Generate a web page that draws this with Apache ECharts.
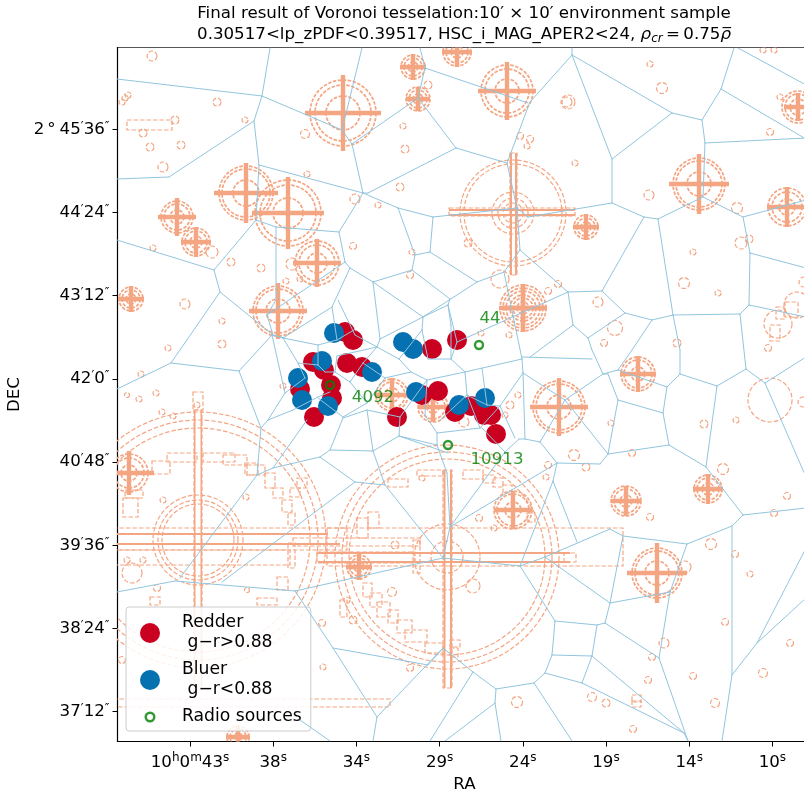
<!DOCTYPE html>
<html><head><meta charset="utf-8">
<style>html,body{margin:0;padding:0;background:#fff;overflow:hidden}#c{width:804px;height:792px}</style>
<script src="https://cdn.jsdelivr.net/npm/echarts@6/dist/echarts.min.js"></script>
</head><body><div id="c"></div>
<script>
const xTickValues=[190,273.2,356.4,439.6,522.8,606,689.2,772.4];
const xTickLabels=['43','38','34','29','24','19','14','10'];
const yTickValues=[129.3,212.5,295.7,378.9,462.1,545.3,628.5,711.7];
const yTickLabels=['2{d|°}45{p|′}36{p|″}','44{p|′}24{p|″}','43{p|′}12{p|″}','42{p|′}0{p|″}','40{p|′}48{p|″}','39{p|′}36{p|″}','38{p|′}24{p|″}','37{p|′}12{p|″}'];
const redder=[[345,332],[353,340],[313,362],[324,370],[347,363],[362,367],[331,385],[300,389],[332,398],[314,417],[397,417],[432,349],[457,340],[422,395],[438,391],[455,412],[471,406],[484,415],[491,415],[496,434]];
const bluer=[[334,333],[322,361],[372,372],[298,378],[302,400],[328,406],[403,342],[413,349],[416,392],[459,405],[485,398]];
const radio=[[479,345],[330,385],[448,445]];
const radioNames=[[490,319,'44'],[373,398,'4092'],[497,460,'10913']];
const voronoiPaths=[
[270,48,262,96,254,121,259,165,256,220],[117,79,262,96,342,130,352,144,418,98,425,68,420,48],[254,121,169,177,117,179],[362,48,342,130],
[352,144,363,193,368,193,456,148,507,163],[259,165,363,193,398,208,433,217,517,208],[418,98,456,148],[425,68,528,103],
[363,193,339,232,345,262,350,268,373,282,412,270,415,255,398,208],[339,232,276,227,256,220,214,270,117,240],[415,255,430,252,433,217],[430,252,477,282],[412,270,450,299],
[423,317,477,282,504,272,520,250,517,208,507,163,530,102,572,55,572,48],[276,227,276,300,267,315],[345,262,267,315,273,335,220,292],[214,270,220,292,171,363,117,389],
[171,363,239,371,272,335,285,338],[239,371,261,428,257,475,180,578],
[350,268,332,307,283,338],[273,335,283,338],[332,307,337,340],[338,300,355,335,377,347],[373,282,423,317],[373,282,380,339,377,347],[283,338,318,345,337,340,354,330],[380,339,423,317],
[377,347,337,356,335,372,325,372,318,365,318,345],[272,335,285,393],[283,338,298,363,318,365],[298,363,305,378,285,393],[285,393,268,420,261,428],[268,420,293,410,318,397,330,392],
[343,417,367,403,350,382,335,372],[343,417,318,398],[343,418,367,410,373,451,330,450,343,418],[320,457,330,450],[373,451,385,485],[373,451,399,436,448,453],[367,410,400,417,399,436],[400,417,427,380],
[427,380,411,372,399,359,377,347],[399,359,422,330,423,317],[411,372,385,378,367,403],[350,382,363,363,377,347],[363,363,385,378],[422,330,428,359,451,359,465,372,427,380],[423,317,448,305,451,325,451,359],[448,305,450,299],
[465,372,522,359],[465,372,467,395,480,428,500,406,523,373,522,359,504,272],[457,342,568,292],[451,359,457,342,448,305],[482,368,487,405,500,406],[467,395,487,405],[480,428,437,433,425,415,427,380],[399,436,437,445,447,473,450,527],[437,433,437,445],[467,395,440,420],
[522,357,592,359],[523,373,525,439],[519,439,505,452,482,428],[500,406,515,438],[505,452,450,527,443,558],
[588,338,592,350,603,374,608,374,618,400,608,454,600,464,557,463,540,442,525,439,519,439],[565,400,603,374],[523,373,565,400,608,454],[565,400,540,442],[632,350,618,370,603,374],
[618,370,667,387,680,374,717,386,746,369],[680,350,680,374],[717,386,706,467],[740,314,746,369],[746,369,765,383,806,357],[765,383,806,477],
[667,387,663,413,618,400],[663,413,669,445,608,454],[669,445,706,467,743,515,806,508],[743,515,732,526,687,544,623,536,610,529,545,557,520,566],[732,526,732,675,722,741],[732,675,757,643,806,548],[757,643,806,598],
[557,463,553,481,577,542],[553,481,520,566],[545,557,610,603],[623,536,610,603,670,592,687,544],[670,592,659,658,688,741],[610,603,605,623,659,658],[605,623,597,625,555,621,520,566],
[555,621,552,655,592,656,597,625],[552,655,545,673,582,683,592,656],[545,673,534,683,496,689,473,672,443,648,377,717,373,741],[496,689,495,703,501,741],[495,703,445,741],[534,683,572,741],[582,683,684,733,688,741],[592,656,684,733],
[473,672,430,741],[295,591,333,648,428,665,443,648],[333,648,377,717],[295,591,175,581,117,592],[295,591,443,558,520,566],[355,482,222,582],[257,475,273,468,320,457,355,482,385,485,443,558],[273,468,307,420],[450,527,557,463],[300,720,330,741],
[572,55,612,159,612,203,644,217,658,219,703,197,705,143,702,120,672,113,572,55],[672,113,612,159],[702,120,721,89,734,48],[721,89,806,139],[738,48,806,85],[705,143,806,138],
[612,203,528,217,517,208],[520,250,568,292,602,291,644,217],[568,292,573,325,530,357],[573,325,588,338],[602,291,625,313,652,320,632,350],[625,313,588,338],[652,320,673,315,658,219],[673,315,740,314,749,305,750,253,743,217,703,197],[743,217,806,200],[750,253,806,268],[749,305,806,317],[673,315,680,350]
];
const stars=[[343,113,33,28,17,38,38],[246,193,27,24,13,32,30],[288,213,33,28,15,36,36],[177,217,16,13,7,19,19],[196,242,14,11,6,15,15],[317,263,22,18,10,24,24],[278,311,25,22,12,29,28],[131,299,12,9,5,13,13],[413,67,12,9,5,13,13],[418,99,12,9,5,12,12],[457,52,14,11,6,15,15],[507,91,26,22,12,29,29],[586,227,12,9,5,13,13],[699,184,26,23,12,30,30],[787,207,19,15,8,20,20],[798,107,16,13,8,14,14],[523,308,23,20,10,24,24],[523,308,17,13,6,20,20],[559,407,26,23,12,29,29],[638,374,17,14,7,18,18],[513,510,19,16,8,19,19],[626,501,15,12,6,15,15],[708,489,14,11,6,15,15],[657,573,25,22,12,30,30],[129,473,19,15,8,25,22],[359,567,12,9,5,13,13],[238,737,11,8,4,12,12],[392,395,16,13,7,17,17],[433,407,15,12,6,15,15]];
const circles=[[152,56,5],[217,102,4],[245,120,3],[175,120,4],[143,133,4],[150,147,4],[181,145,4],[163,167,5],[305,134,4.5],[403,126,3],[428,85,4],[405,149,4],[400,187,4],[355,199,5],[378,205,3],[307,174,3],[353,246,3.5],[412,252,3],[410,275,3.5],[153,248,3],[212,252,6],[231,262,4],[261,268,4],[292,264,6],[185,304,5],[222,321,3],[222,344,4],[168,348,3],[286,281,3],[300,279,3],[125,98,3],[128,95,3],[122,102,3],
[650,64,3],[662,88,5.5],[567,102,5],[568,102,7],[520,136,3.5],[530,139,3.5],[527,146,3],[575,163,3],[649,195,5],[737,208,5.5],[468,243,4],[741,243,6],[749,239,4],[693,252,3],[500,279,9],[684,283,5.5],[718,293,3],[558,284,3.5],[548,291,3.5],[598,302,5],[615,328,7.5],[604,343,3.5],[509,335,3],[481,333,3],[677,343,4],[770,132,3.5],[780,97,3],[763,50,3],[774,50,3],[804,282,5],
[778,324,14],[797,305,13],[768,348,3.5],[770,400,22],[803,402,5],[736,420,3],[704,424,4],[518,395,3],[510,405,4],[505,415,3],[464,422,5],[632,453,3.5],[611,423,3],[574,455,5.5],[586,467,4],[548,465,3.5],[546,477,3],[723,469,5.5],[787,496,3.5],[774,513,3.5],[650,517,3.5],[479,518,3.5],[494,528,3],[711,544,5.5],[735,554,3.5],[750,574,3],[685,567,6],[473,586,7],[725,622,3.5],[664,643,5],[790,643,3.5],[652,657,3.5],[763,673,4.5],[693,676,3.5],[648,680,3.5],[715,703,4.5],[517,702,5.5],[592,697,4.5],[606,703,4],[633,729,3.5],
[283,386,3],[141,374,3],[156,393,3],[127,395,2.5],[139,399,3],[162,412,3],[173,416,3],[197,405,3],[163,500,3],[246,497,3],[143,560,3],[127,560,3],[132,573,10],[157,588,3.5],[247,590,2.5],[322,623,3.5],[323,667,3],[392,592,4.5],[353,620,4],[347,600,3],[410,668,3.5],[122,660,3.5],[395,545,4],[422,478,3],
[198,540,128],[198,540,120],[198,540,112],[198,540,45],[198,540,40],[198,540,36],[447,557,112],[447,557,105],[447,557,98],[447,557,33],[447,557,16],[513,213,53],[513,213,49],[513,213,21],[513,213,15],[513,213,10]];
const dashedRects=[[127,120,172,130],[776,307,784,319],[785,302,798,317],[770,325,780,341],[632,695,641,702],[632,701,641,707],
[152,461,170,474],[167,453,197,462],[203,453,235,462],[223,455,247,465],[245,463,258,475],[265,473,275,488],[273,488,283,498],[282,500,292,512],[288,513,295,525],[123,498,138,517],[125,490,143,498],[288,543,295,568],[277,577,288,590],[257,598,277,605],[290,488,300,497],[297,478,307,488],[247,465,265,475],[357,518,368,538],[368,512,379,528],[363,583,372,597],[370,593,382,607],[377,602,390,617],[388,610,398,623],[397,620,412,633],[405,630,427,642],[425,643,443,653],[388,479,408,487],[417,470,443,476],[340,600,347,617],[463,470,483,479],[483,475,495,483],[493,478,503,487],[503,485,512,493],[527,513,535,522],[450,640,460,647],[450,648,458,657],[150,597,160,605],
[193,392,203,410],[194,410,202,690],[100,528,347,550],[100,550,290,565],[100,699,390,707],[293,538,420,546],[413,540,420,573],[327,528,623,566],[317,552,415,563],[443,470,452,688],[510,153,517,275],[449,208,575,216],[564,553,576,562]];
const solidBars=[[194,410,195.5,690],[200.5,410,202,690],[100,533,328,535],[100,543,340,545],[318,552,570,554],[318,561,570,563],[443.5,470,445.5,688],[450,470,452,688],[510,153,512,275],[515,153,517,275],[449,209,575,211],[449,214,575,216]];
const MASK='#f4a582', EDGE='#92c5de', RED='#ca0020', BLUE='#0571b0';
const FONT='"DejaVu Sans"', FS=16.67;
const ringIcon='path://M0,0h.01M20,20h.01M10,4.5a5.5,5.5 0 1,1 -.01,0zM10,7a3,3 0 1,0 .01,0z';
const voronoiEdges=[];
voronoiPaths.forEach(p=>{for(let i=0;i+3<p.length;i+=2)voronoiEdges.push([p[i],p[i+1],p[i+2],p[i+3]]);});
const dash={stroke:MASK,fill:null,lineWidth:1.2,lineDash:[4.5,2]};
const circleEl=(api,x,y,r,st)=>{const c=api.coord([x,y]);return {type:'circle',shape:{cx:c[0],cy:c[1],r:api.size([r,0])[0]},style:st||dash};};
const chart=echarts.init(document.getElementById('c'),null,{renderer:'canvas'});
const sup={fontSize:12,fontFamily:FONT,color:'#000',verticalAlign:'top',padding:[0,0,10,0]};
chart.setOption({
 animation:false,backgroundColor:'#fff',
 title:{left:459,top:-2,textAlign:'center',text:'Final result of Voronoi tesselation:10′ × 10′ environment sample\n0.30517<lp_zPDF<0.39517, HSC_i_MAG_APER2<24, {it|ρ}{sub|cr}\u2009=\u20090.75{it|ρ̅}',
  textStyle:{fontFamily:FONT,fontSize:FS,fontWeight:'normal',color:'#000',lineHeight:21,rich:{it:{fontStyle:'italic',fontFamily:FONT,fontSize:FS,color:'#000'},sub:{fontStyle:'italic',fontFamily:FONT,fontSize:12,color:'#000',verticalAlign:'bottom',padding:[5,0,0,0]}}}},
 grid:{left:117.5,top:47.5,width:694,height:694,outerBoundsMode:'none',show:true,borderColor:'#555',borderWidth:1,backgroundColor:'#fff'},
 xAxis:{type:'value',min:117.5,max:811.5,name:'RA',nameLocation:'middle',nameGap:31,nameTextStyle:{fontFamily:FONT,fontSize:FS,color:'#000'},
  splitLine:{show:false},axisLine:{show:true,onZero:false,lineStyle:{color:'#000',width:1.2}},
  axisTick:{show:true,length:5,customValues:xTickValues,lineStyle:{color:'#000',width:1}},
  axisLabel:{show:true,customValues:xTickValues,margin:10,fontFamily:FONT,fontSize:FS,color:'#000',
   formatter:v=>{const i=xTickValues.findIndex(t=>Math.abs(t-v)<.01),s=xTickLabels[i];return (i===0?'10{u|h}0{u|m}':'')+s+'{u|s}';},rich:{u:sup}}},
 yAxis:{type:'value',inverse:true,min:47.5,max:741.5,name:'DEC',nameLocation:'middle',nameGap:90,nameTextStyle:{fontFamily:FONT,fontSize:FS,color:'#000'},
  splitLine:{show:false},axisLine:{show:true,onZero:false,lineStyle:{color:'#000',width:1.2}},
  axisTick:{show:true,length:5,customValues:yTickValues,lineStyle:{color:'#000',width:1}},
  axisLabel:{show:true,customValues:yTickValues,margin:8,fontFamily:FONT,fontSize:FS,color:'#000',
   formatter:v=>yTickLabels[yTickValues.findIndex(t=>Math.abs(t-v)<.01)],rich:{p:{fontSize:12.5,fontFamily:FONT,color:'#000',verticalAlign:'top',padding:[0,0,6,0]},d:{fontSize:FS,fontFamily:FONT,color:'#000',padding:[0,4,0,3]}}}},
 legend:{orient:'vertical',left:126,top:607,padding:[6,9,4,14],itemGap:7,itemWidth:40,itemHeight:20,backgroundColor:'rgba(255,255,255,0.85)',borderColor:'#ccc',borderWidth:1,borderRadius:3,
  textStyle:{fontFamily:FONT,fontSize:17.2,color:'#000',lineHeight:20,padding:[0,0,0,7]},
  data:[{name:'Redder\n g−r>0.88',icon:'circle'},{name:'Bluer\n g−r<0.88',icon:'circle'},{name:'Radio sources',icon:ringIcon,itemStyle:{color:'green',borderWidth:0}}]},
 series:[
  {type:'custom',name:'mask circles',coordinateSystem:'cartesian2d',clip:true,z:1,silent:true,data:circles,
   renderItem:(p,api)=>circleEl(api,api.value(0),api.value(1),api.value(2))},
  {type:'custom',name:'mask boxes',coordinateSystem:'cartesian2d',clip:true,z:1,silent:true,data:dashedRects,
   renderItem:(p,api)=>{const a=api.coord([api.value(0),api.value(1)]),b=api.coord([api.value(2),api.value(3)]);return {type:'rect',shape:{x:a[0],y:a[1],width:b[0]-a[0],height:b[1]-a[1]},style:dash};}},
  {type:'custom',name:'mask bars',coordinateSystem:'cartesian2d',clip:true,z:1,silent:true,data:solidBars,
   renderItem:(p,api)=>{const a=api.coord([api.value(0),api.value(1)]),b=api.coord([api.value(2),api.value(3)]);return {type:'rect',shape:{x:a[0],y:a[1],width:b[0]-a[0],height:b[1]-a[1]},style:{fill:MASK}};}},
  {type:'custom',name:'mask stars',coordinateSystem:'cartesian2d',clip:true,z:1,silent:true,data:stars,
   renderItem:(p,api)=>{const x=api.value(0),y=api.value(1),h=api.value(5),v=api.value(6);
    const heavy={stroke:MASK,fill:null,lineWidth:1.7,lineDash:[3.5,1.5]};
    const l=(x1,y1,x2,y2)=>{const a=api.coord([x1,y1]),b=api.coord([x2,y2]);return {type:'line',shape:{x1:a[0],y1:a[1],x2:b[0],y2:b[1]},style:{stroke:MASK,lineWidth:4.4}};};
    return {type:'group',children:[circleEl(api,x,y,api.value(2),heavy),circleEl(api,x,y,api.value(3),heavy),circleEl(api,x,y,api.value(4),heavy),l(x-h,y,x+h,y),l(x,y-v,x,y+v)]};}},
  {type:'scatter',name:'Redder\n g−r>0.88',data:redder,symbolSize:20,z:3,itemStyle:{color:RED,opacity:1},clip:true},
  {type:'scatter',name:'Bluer\n g−r<0.88',data:bluer,symbolSize:20,z:3,itemStyle:{color:BLUE,opacity:1},clip:true},
  {type:'custom',name:'voronoi',coordinateSystem:'cartesian2d',clip:true,z:4,silent:true,data:voronoiEdges,
   renderItem:(p,api)=>{const a=api.coord([api.value(0),api.value(1)]),b=api.coord([api.value(2),api.value(3)]);return {type:'line',shape:{x1:a[0],y1:a[1],x2:b[0],y2:b[1]},style:{stroke:EDGE,lineWidth:1,lineCap:'round'}};}},
  {type:'scatter',name:'Radio sources',data:radio,symbolSize:8,z:5,itemStyle:{color:'rgba(255,255,255,0)',borderColor:'green',borderWidth:2.4}},
  {type:'scatter',name:'radio names',data:radioNames.map(r=>({value:[r[0],r[1]],label:{formatter:r[2]}})),symbolSize:0,z:6,silent:true,
   label:{show:true,position:'inside',color:'green',fontFamily:FONT,fontSize:FS}}
 ]
});
</script></body></html>
